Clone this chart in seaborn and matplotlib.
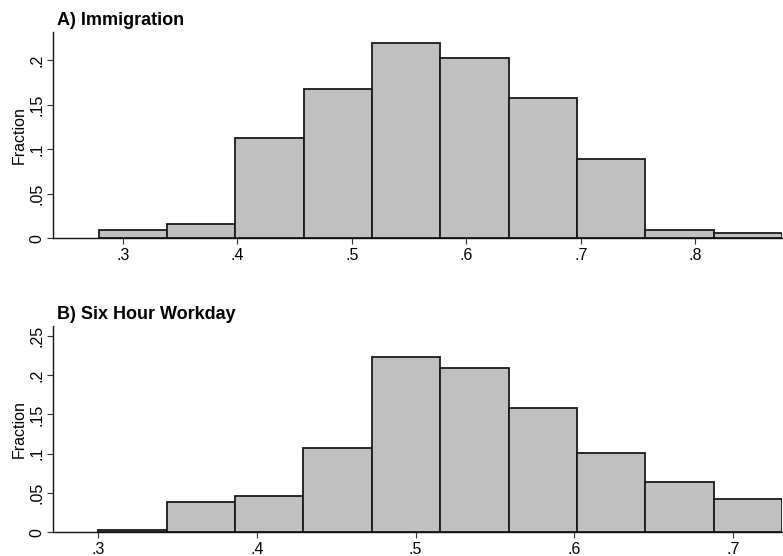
import seaborn as sns
import matplotlib.pyplot as plt
import pandas as pd
import numpy as np

sns.set_style("ticks")
plt.rcParams['font.family'] = ['Liberation Sans', 'DejaVu Sans']
plt.rcParams['text.color'] = 'black'
plt.rcParams['axes.labelcolor'] = 'black'
plt.rcParams['xtick.color'] = 'black'
plt.rcParams['ytick.color'] = 'black'

# Panel A: Immigration
immig_frac = [0.0093, 0.016, 0.113, 0.168, 0.2198, 0.2026, 0.1577, 0.0886, 0.0093, 0.0056]
immig_bin_start = 0.2788
immig_bin_width = 0.0597
immig_ticks = [0.3, 0.4, 0.5, 0.6, 0.7, 0.8]
immig_yticks = [0, 0.05, 0.1, 0.15, 0.2]

# Panel B: Six Hour Workday
six_frac = [0.003, 0.039, 0.046, 0.1077, 0.2234, 0.2094, 0.1586, 0.1009, 0.0644, 0.0424]
six_bin_start = 0.3
six_bin_width = 0.0431
six_ticks = [0.3, 0.4, 0.5, 0.6, 0.7]
six_yticks = [0, 0.05, 0.1, 0.15, 0.2, 0.25]


def fmt(v):
    s = ('%g' % v)
    return s[1:] if s.startswith('0.') else s


def panel(ax, frac, start, width, xticks, yticks, title, xlim_left, ytop):
    edges = [start + width * i for i in range(len(frac) + 1)]
    df = pd.DataFrame({'value': [(a + b) / 2 for a, b in zip(edges[:-1], edges[1:])],
                       'fraction': frac})
    sns.histplot(data=df, x='value', weights='fraction', bins=edges, stat='count', ax=ax,
                 color='#c0c0c0', alpha=1, edgecolor='#1a1a1a', linewidth=1.3)
    ax.set_xlim(xlim_left, edges[-1])
    ax.set_ylim(0, ytop)
    ax.set_xticks(xticks)
    ax.set_xticklabels([fmt(v) for v in xticks], fontsize=11.5)
    ax.set_yticks(yticks)
    ax.set_yticklabels([fmt(v) for v in yticks], fontsize=11.5, rotation=90, va='center')
    ax.tick_params(axis='x', length=4.5, width=0.8, color='#333333', pad=2.5)
    ax.tick_params(axis='y', length=4.5, width=0.8, color='#333333', pad=1.5)
    ax.set_ylabel('Fraction', fontsize=11.5, labelpad=2)
    ax.set_xlabel('')
    ax.set_title(title, loc='left', fontsize=13, fontweight='bold', x=0.005, pad=5)
    sns.despine(ax=ax)
    for s in ['left', 'bottom']:
        ax.spines[s].set_linewidth(1.0)
        ax.spines[s].set_color('#111111')


fig = plt.figure(figsize=(7.83, 5.56), dpi=100)
ax1 = fig.add_axes([0.0677, 0.5714, 0.931, 0.3716])
ax2 = fig.add_axes([0.0677, 0.0426, 0.931, 0.3716])

panel(ax1, immig_frac, immig_bin_start, immig_bin_width, immig_ticks, immig_yticks,
      'A) Immigration', 0.2389, 0.232)
panel(ax2, six_frac, six_bin_start, six_bin_width, six_ticks, six_yticks,
      'B) Six Hour Workday', 0.2714, 0.263)

fig.savefig('out.png', dpi=100)
